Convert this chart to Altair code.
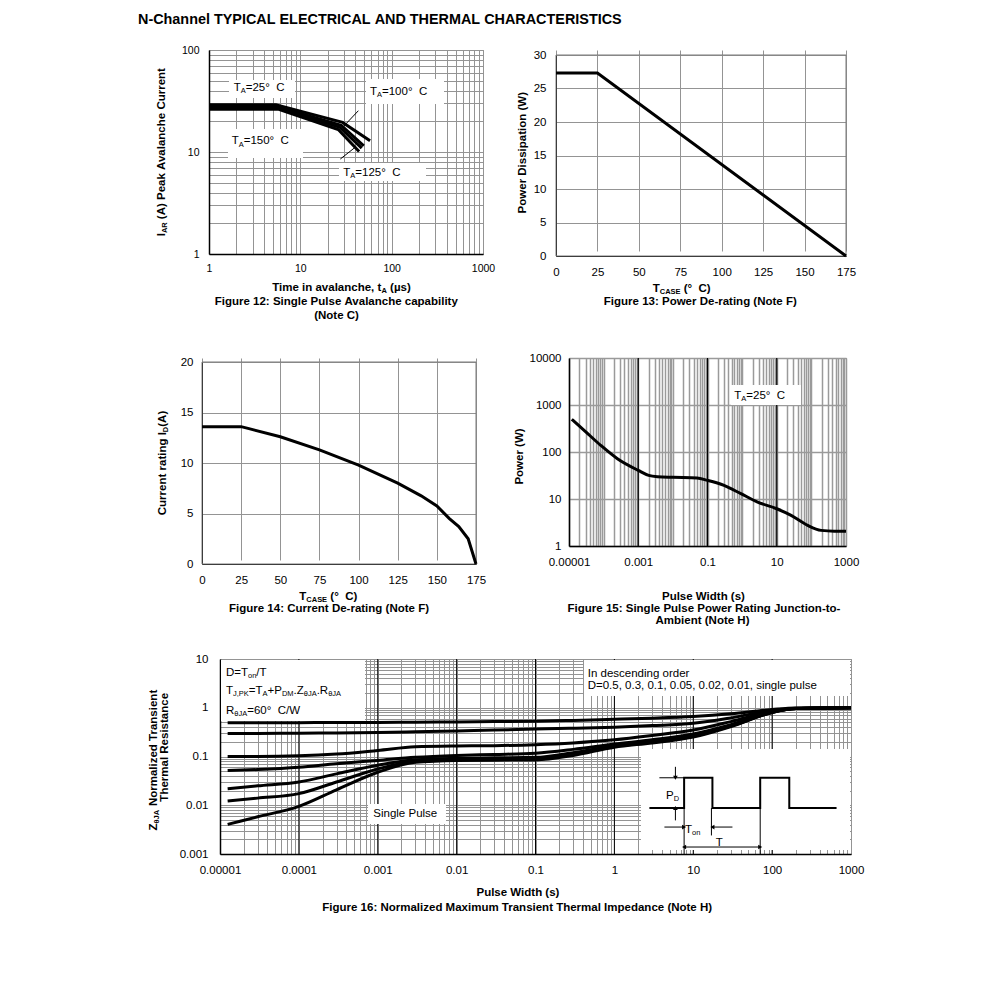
import altair as alt
import pandas as pd

FONT = "Liberation Sans"
GRID = "#949494"
BORDER = "#7a7a7a"
ONE = pd.DataFrame({"k": [0]})

# ======================= DATA =======================
title_text = "N-Channel TYPICAL ELECTRICAL AND THERMAL CHARACTERISTICS"

# ---- Figure 12: single pulse avalanche capability ----
fig12_series = ["25", "100", "125", "150"]
fig12_time = {
    "25": [1, 5.4, 29, 58],
    "100": [1, 5.5, 28, 49.5],
    "125": [1, 5.6, 27, 47],
    "150": [1, 5.7, 26, 44],
}
fig12_current = {
    "25": [29.0, 29.0, 19.5, 12.9],
    "100": [28.0, 28.0, 18.3, 11.5],
    "125": [27.2, 27.2, 17.5, 10.9],
    "150": [26.3, 26.3, 16.6, 10.1],
}
fig12_ptr_t = [43.2, 27.4]
fig12_ptr_i = [25.4, 8.53]
fig12_ptr_t2 = [27.9, 40.8]
fig12_ptr_i2 = [16.8, 11.3]
fig12_xlabels = [1, 10, 100, 1000]
fig12_ylabels = [1, 10, 100]

# ---- Figure 13: power de-rating ----
fig13_t = [0, 25, 175]
fig13_p = [27.3, 27.3, 0]
fig13_xticks = [0, 25, 50, 75, 100, 125, 150, 175]
fig13_yticks = [0, 5, 10, 15, 20, 25, 30]

# ---- Figure 14: current de-rating ----
fig14_t = [0, 25, 30, 50, 75, 100, 125, 140, 150, 158, 164, 170, 175]
fig14_i = [13.6, 13.6, 13.4, 12.6, 11.3, 9.8, 8.0, 6.75, 5.75, 4.5, 3.7, 2.5, 0]
fig14_xticks = [0, 25, 50, 75, 100, 125, 150, 175]
fig14_yticks = [0, 5, 10, 15, 20]

# ---- Figure 15: single pulse power rating ----
fig15_w = [1.2e-5, 3e-5, 8.2e-5, 2.5e-4, 1e-3, 2e-3, 3.6e-3, 0.01, 0.05, 0.1,
           0.3, 0.92, 2.8, 10, 26, 78, 190, 460, 1000]
fig15_p = [496, 271, 139, 72, 40.7, 31.9, 29.8, 28.9, 28, 24.9,
           19.5, 13, 8.6, 6.2, 4.5, 2.75, 2.15, 2.07, 2.07]
fig15_xlabels = [0.00001, 0.001, 0.1, 10, 1000]
fig15_ylabels = [1, 10, 100, 1000, 10000]
fig15_major = [0.001, 0.1, 10]

# ---- Figure 16: normalized transient thermal impedance ----
fig16_w = [1.25e-5, 3e-5, 1e-4, 3e-4, 1e-3, 3e-3, 1e-2, 3e-2, 0.1, 0.3,
           1, 3, 10, 30, 100, 200, 1000]
fig16_duty = ["0.5", "0.3", "0.1", "0.05", "0.02", "0.01", "single"]
fig16_z = {
    "0.5": [0.49, 0.49, 0.495, 0.5, 0.5, 0.505, 0.51, 0.52, 0.53, 0.55, 0.58, 0.61, 0.66, 0.75, 0.92, 0.99, 1.0],
    "0.3": [0.296, 0.297, 0.3, 0.305, 0.31, 0.32, 0.335, 0.35, 0.365, 0.38, 0.40, 0.43, 0.48, 0.62, 0.88, 0.98, 1.0],
    "0.1": [0.1, 0.1, 0.103, 0.112, 0.133, 0.158, 0.165, 0.167, 0.175, 0.19, 0.22, 0.27, 0.35, 0.52, 0.84, 0.97, 1.0],
    "0.05": [0.0516, 0.054, 0.06, 0.071, 0.083, 0.096, 0.105, 0.11, 0.117, 0.14, 0.18, 0.22, 0.29, 0.45, 0.82, 0.96, 1.0],
    "0.02": [0.0218, 0.025, 0.03, 0.044, 0.066, 0.086, 0.092, 0.094, 0.096, 0.12, 0.165, 0.2, 0.27, 0.43, 0.81, 0.96, 1.0],
    "0.01": [0.0122, 0.014, 0.0173, 0.03, 0.0556, 0.08, 0.087, 0.088, 0.088, 0.11, 0.16, 0.195, 0.26, 0.42, 0.8, 0.96, 1.0],
    "single": [0.00405, 0.0058, 0.0095, 0.0207, 0.0475, 0.076, 0.083, 0.084, 0.085, 0.105, 0.155, 0.19, 0.25, 0.41, 0.8, 0.96, 1.0],
}
fig16_xlabels = [0.00001, 0.0001, 0.001, 0.01, 0.1, 1, 10, 100, 1000]
fig16_ylabels = [0.001, 0.01, 0.1, 1, 10]
fig16_major = [0.0001, 0.001, 0.01, 0.1, 1, 10, 100]

# inset pulse diagram (in plot data coordinates)
pulse_w = [2.78, 7.66, 7.66, 17.5, 17.5, 70.6, 70.6, 165, 165, 656]
pulse_z = [0.00875, 0.00875, 0.0366, 0.0366, 0.00875, 0.00875, 0.0366, 0.0366, 0.00875, 0.00875]
inset_w = [3.72, 5.94, 5.94, 4.31, 31.4, 17.0, 7.66, 70.6, 7.66]
inset_z = [0.0366, 0.0614, 0.00489, 0.00357, 0.00357, 0.00875, 0.00875, 0.00875, 0.00139]
inset_w2 = [7.66, 5.94, 5.94, 7.66, 17.5, 17.0, 7.66, 70.6, 70.6]
inset_z2 = [0.0366, 0.0366, 0.00875, 0.00357, 0.00357, 0.0024, 0.001, 0.001, 0.00139]
arrow_w = [5.94, 5.94, 7.66, 17.5, 7.66, 70.6]
arrow_z = [0.0366, 0.00875, 0.00357, 0.00357, 0.00139, 0.00139]
arrow_shape = ["triangle-down", "triangle-up", "triangle-right", "triangle-left", "triangle-left", "triangle-right"]


def decade_grid(e0, e1):
    vals = []
    for e in range(e0, e1):
        for m in range(1, 10):
            vals.append(round(m * 10.0 ** e, 12))
    vals.append(round(10.0 ** e1, 12))
    return vals


# ======================= TEXT HELPERS =======================
def _table(groups):
    d = {}
    for chars, w in groups:
        for c in chars:
            d[c] = w
    return d


REG_W = _table([("ijl", 222), (" \u00a0!,./:;Ift", 278), ("()-r", 333), ("\u00b0", 400),
                ("Jckszvxy", 500), ("0123456789abdeghnopquL\u00b5\u03b8_", 556), ("=+<>", 584),
                ("FTZ", 611), ("ABEKPSVXY", 667), ("CDHNRUw", 722), ("GOQ", 778), ("Mm", 833), ("W", 944)])
BOLD_W = _table([(" \u00a0!,./Iijl", 278), ("():-ft", 333), ("r", 389), ("\u00b0", 400), ("z", 500),
                 ("0123456789acesvxyJk", 556), ("=+", 584), ("bdghnopquFLTZ\u00b5\u03b8", 611),
                 ("EPSVXY", 667), ("ABCDHKNRU", 722), ("GOQw", 778), ("M", 833), ("m", 889), ("W", 944)])


def text_width(t, size, bold):
    tab = BOLD_W if bold else REG_W
    return sum(tab.get(c, 556) for c in t) * size / 1000.0


def rich(segs, x, y, size, bold=False, align="left", angle=0):
    parts, total = [], 0.0
    for t, sub in segs:
        s = size * 0.65 if sub else size
        w = text_width(t, s, bold)
        lead = text_width(t[: len(t) - len(t.lstrip(" "))], s, bold)
        shown = t.strip(" ").replace(" ", "\u00a0")
        parts.append((shown, s, w, lead, sub))
        total += w
    off = {"left": 0.0, "center": -total / 2.0, "right": -total}[align]
    out = []
    for shown, s, w, lead, sub in parts:
        out.append(
            alt.Chart(ONE).mark_text(
                text=shown, font=FONT, fontSize=round(s, 2),
                fontWeight="bold" if bold else "normal",
                align="left", baseline="alphabetic",
                dx=round(off + lead, 2), dy=round(size * 0.2, 2) if sub else 0,
                angle=angle, color="black",
            ).encode(x=alt.value(x), y=alt.value(y))
        )
        off += w
    return out


def P(segs, px, py, origin, size=11.5, bold=False, align="left", angle=0):
    if isinstance(segs, str):
        segs = [(segs, False)]
    return rich(segs, px - origin[0], py - origin[1], size, bold, align, angle)


def box(x0, y0, x1, y1, origin):
    ox, oy = origin
    return alt.Chart(ONE).mark_rect(color="white").encode(
        x=alt.value(x0 - ox), x2=alt.value(x1 - ox),
        y=alt.value(y0 - oy), y2=alt.value(y1 - oy))


def frame(w, top, bottom):
    return alt.Chart(ONE).mark_rect(filled=False, color=BORDER, strokeWidth=1).encode(
        x=alt.value(0), x2=alt.value(w), y=alt.value(top), y2=alt.value(bottom))


def anchor(bx, origin):
    ox, oy = origin
    return alt.Chart(ONE).mark_rule(opacity=0).encode(
        x=alt.value(bx[0] - ox), x2=alt.value(bx[2] - ox),
        y=alt.value(bx[1] - oy), y2=alt.value(bx[3] - oy))


def spacer():
    return alt.Chart(ONE).mark_rule(opacity=0).encode(
        x=alt.value(0), x2=alt.value(1), y=alt.value(0), y2=alt.value(1)
    ).properties(width=1, height=1, view=alt.ViewBackground(stroke=None))


def js_list(vals):
    return "[" + ",".join(f"{v:.5f}".rstrip("0").rstrip(".") for v in vals) + "]"


def log_axis(grid_vals, label_vals, fs, pad, gw=1, gc=GRID):
    return alt.Axis(values=grid_vals,
                    labelExpr=f"indexof({js_list(label_vals)}, datum.value) >= 0 ? format(datum.value, '.5~f') : ''",
                    grid=True, gridColor=gc, gridWidth=gw, ticks=False,
                    domain=True, domainColor="black", domainWidth=1.5,
                    labelFontSize=fs, labelPadding=pad, labelFont=FONT, labelColor="black",
                    labelOverlap=False, labelFlush=False, title=None)


def lin_axis(vals, fs, pad):
    return alt.Axis(values=vals, grid=True, gridColor=GRID, gridWidth=1, ticks=False,
                    domain=True, domainColor="black", domainWidth=1,
                    labelFontSize=fs, labelPadding=pad, labelFont=FONT, labelColor="black",
                    labelOverlap=False, labelFlush=False, title=None)


BOLD_SZ = 11.5
CAP = "\u00b0\u00a0 C"

# ======================= TITLE ROW =======================
O0 = (8, 8)
T0 = P(title_text, 138, 23.5, O0, size=14.4, bold=True)
title_row = alt.layer(*T0, anchor((8, 8, 9, 30), O0)).properties(
    width=1, height=1, view=alt.ViewBackground(stroke=None))

# ======================= FIGURE 12 =======================
O12 = (208, 49)
B12 = (9, 30, 505, 330)
X12 = alt.X("t:Q", scale=alt.Scale(type="log", domain=[1, 1000], nice=False),
            axis=log_axis(decade_grid(0, 3), fig12_xlabels, 10.5, 9))
Y12 = alt.Y("i:Q", scale=alt.Scale(type="log", domain=[1, 100], nice=False),
            axis=log_axis(decade_grid(0, 2), fig12_ylabels, 10.5, 10))
rows = []
for s in fig12_series:
    for t, i in zip(fig12_time[s], fig12_current[s]):
        rows.append({"temp": s, "t": t, "i": i})
df12 = pd.DataFrame(rows)
ptr12 = pd.DataFrame({"t": fig12_ptr_t, "i": fig12_ptr_i, "t2": fig12_ptr_t2, "i2": fig12_ptr_i2})

L12 = [
    alt.Chart(df12).mark_line(color="black", strokeWidth=3).encode(x=X12, y=Y12, detail="temp:N"),
    box(228, 79, 294, 97, O12), box(365, 78, 443, 103, O12),
    box(227, 128, 302, 157, O12), box(338, 162, 425, 180, O12),
    alt.Chart(ptr12).mark_rule(color="black", strokeWidth=1).encode(x=X12, y=Y12, x2="t2:Q", y2="i2:Q"),
]
L12 += P([("T", False), ("A", True), ("=25" + CAP, False)], 232.7, 90, O12)
L12 += P([("T", False), ("A", True), ("=100" + CAP, False)], 369, 94, O12)
L12 += P([("T", False), ("A", True), ("=150" + CAP, False)], 230.7, 143.3, O12)
L12 += P([("T", False), ("A", True), ("=125" + CAP, False)], 342.3, 175, O12)
L12 += P([("I", False), ("AR", True), (" (A) Peak Avalanche Current", False)], 164, 151, O12,
         size=BOLD_SZ, bold=True, align="center", angle=270)
L12 += P([("Time in avalanche, t", False), ("A", True), (" (\u00b5s)", False)], 340.7, 290, O12,
         size=BOLD_SZ, bold=True, align="center")
L12 += P("Figure 12: Single Pulse Avalanche capability", 335.5, 304, O12, size=BOLD_SZ, bold=True, align="center")
L12 += P("(Note C)", 335.5, 317.5, O12, size=BOLD_SZ, bold=True, align="center")
L12.append(anchor(B12, O12))
fig12 = alt.layer(*L12).properties(width=274, height=204)

# ======================= FIGURE 13 =======================
# view starts at y=49 (same as fig 12); the plot itself begins 5px lower
O13 = (554, 49)
B13 = (505, 30, 975, 330)
X13 = alt.X("t:Q", scale=alt.Scale(domain=[0, 175], nice=False, zero=False), axis=lin_axis(fig13_xticks, 11.5, 10))
Y13 = alt.Y("p:Q", scale=alt.Scale(domain=[0, 30], nice=False, range=[206, 5]), axis=lin_axis(fig13_yticks, 11.5, 10))
df13 = pd.DataFrame({"t": fig13_t, "p": fig13_p})
L13 = [frame(290, 5, 206),
       alt.Chart(df13).mark_line(color="black", strokeWidth=3).encode(x=X13, y=Y13)]
L13 += P("Power Dissipation (W)", 524, 151.7, O13, size=BOLD_SZ, bold=True, align="center", angle=270)
L13 += P([("T", False), ("CASE", True), (" (" + CAP + ")", False)], 679.7, 291, O13,
         size=BOLD_SZ, bold=True, align="center")
L13 += P("Figure 13: Power De-rating (Note F)", 698.3, 303.5, O13, size=BOLD_SZ, bold=True, align="center")
L13.append(anchor(B13, O13))
fig13 = alt.layer(*L13).properties(width=290, height=206, view=alt.ViewBackground(stroke=None))

# ======================= FIGURE 14 =======================
# view starts at y=359 (same as fig 15); the plot itself begins 4px lower
O14 = (202, 359)
B14 = (9, 334, 505, 640)
X14 = alt.X("t:Q", scale=alt.Scale(domain=[0, 175], nice=False, zero=False), axis=lin_axis(fig14_xticks, 11.5, 10))
Y14 = alt.Y("i:Q", scale=alt.Scale(domain=[0, 20], nice=False, range=[206, 4]), axis=lin_axis(fig14_yticks, 11.5, 9))
df14 = pd.DataFrame({"t": fig14_t, "i": fig14_i})
L14 = [frame(274, 4, 206),
       alt.Chart(df14).mark_line(color="black", strokeWidth=3).encode(x=X14, y=Y14)]
L14 += P([("Current rating I", False), ("D", True), ("(A)", False)], 165.7, 464, O14,
         size=BOLD_SZ, bold=True, align="center", angle=270)
L14 += P([("T", False), ("CASE", True), (" (" + CAP + ")", False)], 328.3, 600.5, O14,
         size=BOLD_SZ, bold=True, align="center")
L14 += P("Figure 14: Current De-rating (Note F)", 329, 613, O14, size=BOLD_SZ, bold=True, align="center")
L14.append(anchor(B14, O14))
fig14 = alt.layer(*L14).properties(width=274, height=206, view=alt.ViewBackground(stroke=None))

# ======================= FIGURE 15 =======================
O15 = (568, 359)
B15 = (505, 334, 975, 640)
X15 = alt.X("w:Q", scale=alt.Scale(type="log", domain=[1e-5, 1000], nice=False),
            axis=log_axis(decade_grid(-5, 3), fig15_xlabels, 11.5, 10, gw=1.5, gc="#9a9a9a"))
Y15 = alt.Y("p:Q", scale=alt.Scale(type="log", domain=[1, 10000], nice=False),
            axis=log_axis(fig15_ylabels, fig15_ylabels, 11.5, 8, gw=1.5, gc="#9a9a9a"))
df15 = pd.DataFrame({"w": fig15_w, "p": fig15_p})
maj15 = pd.DataFrame({"w": fig15_major})
L15 = [
    alt.Chart(maj15).mark_rule(color="black", strokeWidth=1.2).encode(x=X15, y=alt.value(0), y2=alt.value(188)),
    box(730, 386, 800, 406, O15),
    alt.Chart(df15).mark_line(color="black", strokeWidth=3, interpolate="monotone").encode(x=X15, y=Y15),
]
L15 += P([("T", False), ("A", True), ("=25" + CAP, False)], 733.3, 400, O15)
L15 += P("Power (W)", 522.3, 457.5, O15, size=BOLD_SZ, bold=True, align="center", angle=270)
L15 += P("Pulse Width (s)", 702.5, 600.8, O15, size=BOLD_SZ, bold=True, align="center")
L15 += P("Figure 15: Single Pulse Power Rating Junction-to-", 703, 612.5, O15, size=BOLD_SZ, bold=True, align="center")
L15 += P("Ambient (Note H)", 701.5, 624.5, O15, size=BOLD_SZ, bold=True, align="center")
L15.append(anchor(B15, O15))
fig15 = alt.layer(*L15).properties(width=277, height=188)

# ======================= FIGURE 16 =======================
O16 = (219, 660)
B16 = (9, 642, 975, 930)
X16 = alt.X("w:Q", scale=alt.Scale(type="log", domain=[1e-5, 1000], nice=False),
            axis=log_axis(decade_grid(-5, 3), fig16_xlabels, 11.5, 10))
Y16 = alt.Y("z:Q", scale=alt.Scale(type="log", domain=[0.001, 10], nice=False),
            axis=log_axis(decade_grid(-3, 1), fig16_ylabels, 11.5, 12))
rows = []
for d in fig16_duty:
    for w, z in zip(fig16_w, fig16_z[d]):
        rows.append({"D": d, "w": w, "z": z})
df16 = pd.DataFrame(rows)
maj16 = pd.DataFrame({"w": fig16_major})
pulse = pd.DataFrame({"w": pulse_w, "z": pulse_z, "ord": list(range(len(pulse_w)))})
segs = pd.DataFrame({"w": inset_w, "z": inset_z, "w2": inset_w2, "z2": inset_z2})
arrows = pd.DataFrame({"w": arrow_w, "z": arrow_z, "shape": arrow_shape})

L16 = [
    alt.Chart(maj16).mark_rule(color="black", strokeWidth=1).encode(x=X16, y=alt.value(0), y2=alt.value(195)),
    box(220, 661, 364, 722, O16), box(583, 661, 849, 697, O16),
    box(367, 805, 445, 825, O16), box(640, 750, 849, 851, O16),
    alt.Chart(df16).mark_line(color="black", strokeWidth=3, interpolate="monotone").encode(x=X16, y=Y16, detail="D:N"),
    alt.Chart(pulse).mark_line(color="black", strokeWidth=2).encode(x=X16, y=Y16, order="ord:Q"),
    alt.Chart(segs).mark_rule(color="black", strokeWidth=1).encode(x=X16, y=Y16, x2="w2:Q", y2="z2:Q"),
    alt.Chart(arrows).mark_point(filled=True, size=22, color="black", opacity=1).encode(
        x=X16, y=Y16, shape=alt.Shape("shape:N", scale=None)),
]
L16 += P([("D=T", False), ("on", True), ("/T", False)], 225, 676.7, O16)
L16 += P([("T", False), ("J,PK", True), ("=T", False), ("A", True), ("+P", False), ("DM", True),
          (".Z", False), ("\u03b8JA", True), (".R", False), ("\u03b8JA", True)], 225, 695, O16)
L16 += P([("R", False), ("\u03b8JA", True), ("=60" + CAP + "/W", False)], 225, 715, O16)
L16 += P("In descending order", 586.7, 677.5, O16)
L16 += P("D=0.5, 0.3, 0.1, 0.05, 0.02, 0.01, single pulse", 586.7, 690, O16)
L16 += P("Single Pulse", 372.3, 818.3, O16)
L16 += P([("P", False), ("D", True)], 665, 800, O16)
L16 += P([("T", False), ("on", True)], 684, 834, O16)
L16 += P("T", 718.3, 847, O16, align="center")
L16 += P([("Z", False), ("\u03b8JA", True), (" Normalized Transient", False)], 155.7, 760.8, O16,
         size=BOLD_SZ, bold=True, align="center", angle=270)
L16 += P("Thermal Resistance", 167.3, 748.3, O16, size=BOLD_SZ, bold=True, align="center", angle=270)
L16 += P("Pulse Width (s)", 517, 897, O16, size=BOLD_SZ, bold=True, align="center")
L16 += P("Figure 16: Normalized Maximum Transient Thermal Impedance (Note H)", 516.5, 912, O16,
         size=BOLD_SZ, bold=True, align="center")
L16.append(anchor(B16, O16))
fig16 = alt.layer(*L16).properties(width=631, height=195)

# ======================= LAYOUT =======================
row1 = alt.hconcat(spacer(), fig12, fig13, spacing=0)
row2 = alt.hconcat(spacer(), fig14, fig15, spacing=0)
row3 = alt.hconcat(spacer(), fig16, spacing=0)
chart = (
    alt.vconcat(title_row, row1, row2, row3, spacing=0)
    .properties(padding=0, background="white")
    .configure_view(stroke=BORDER, strokeWidth=1)
    .configure_axis(labelFont=FONT, labelColor="black")
)
chart.save("out.html", embed_options={"renderer": "svg", "actions": False})
